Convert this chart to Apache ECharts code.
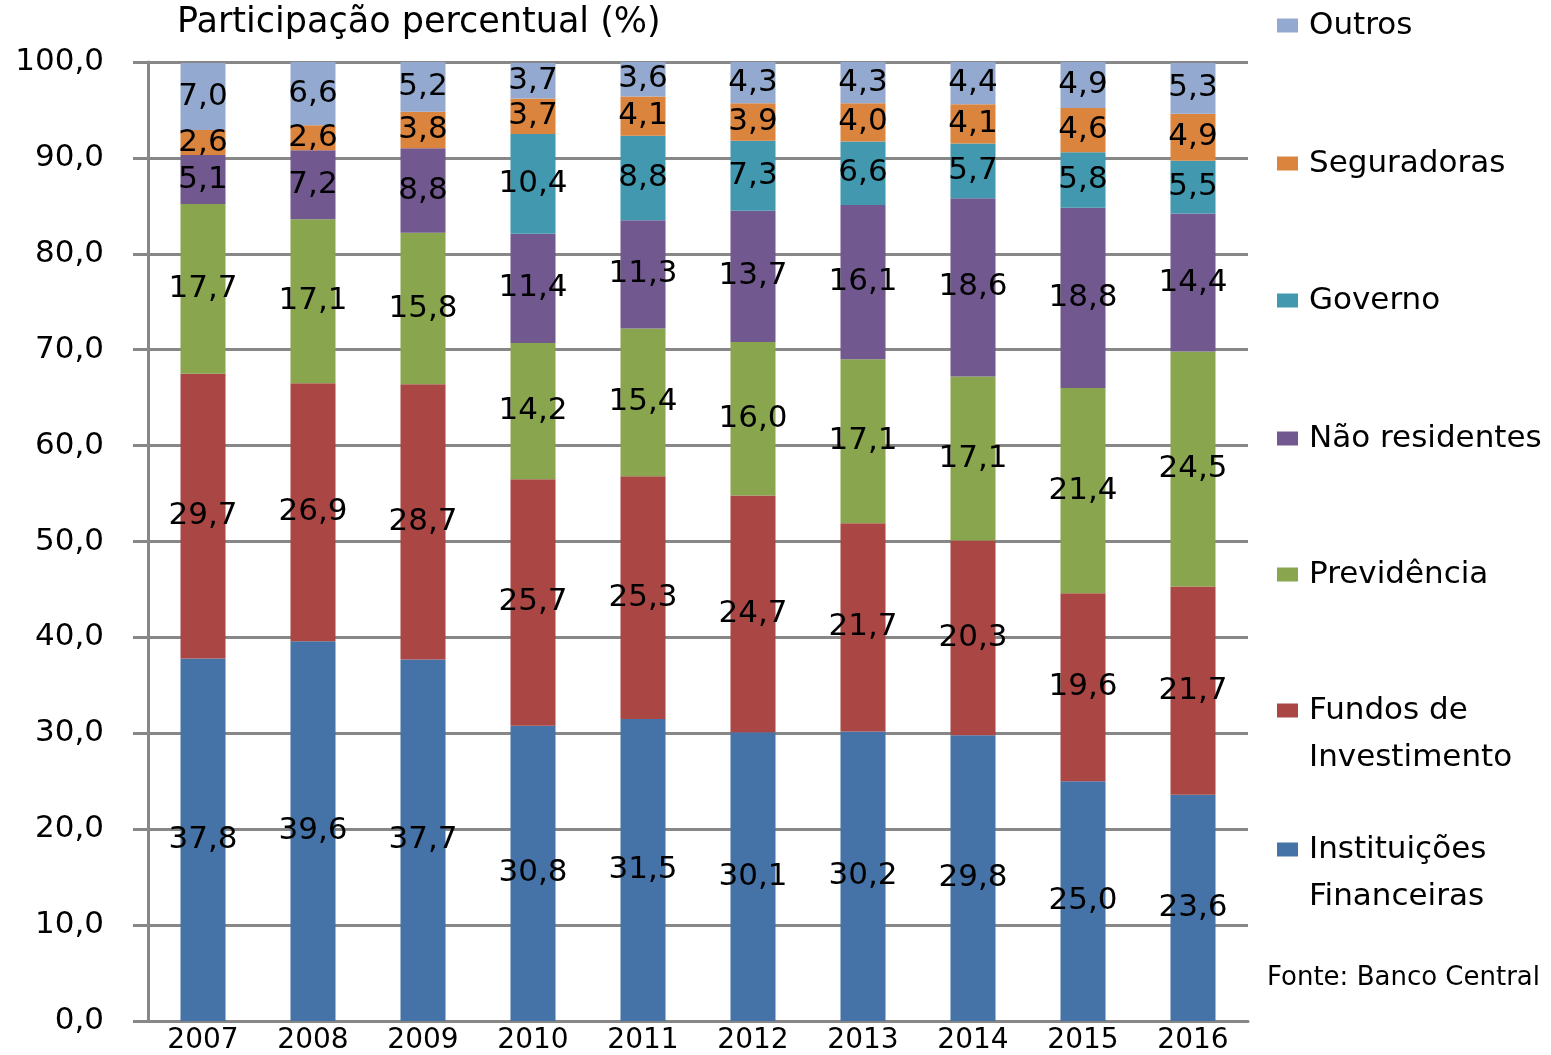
<!DOCTYPE html>
<html>
<head>
<meta charset="utf-8">
<script src="https://cdn.jsdelivr.net/npm/echarts@6/dist/echarts.min.js"></script>
<style>
  html, body { margin: 0; padding: 0; background: #fff; }
  #chart { width: 1551px; height: 1055px; }
</style>
</head>
<body>
<div id="chart"></div>
<script>
document.addEventListener('DOMContentLoaded', function () {

    // categorias e séries (participação percentual)
    const years = ['2007', '2008', '2009', '2010', '2011', '2012', '2013', '2014', '2015', '2016'];
    const instituicoes = [37.8, 39.6, 37.7, 30.8, 31.5, 30.1, 30.2, 29.8, 25.0, 23.6];
    const fundos = [29.7, 26.9, 28.7, 25.7, 25.3, 24.7, 21.7, 20.3, 19.6, 21.7];
    const previdencia = [17.7, 17.1, 15.8, 14.2, 15.4, 16.0, 17.1, 17.1, 21.4, 24.5];
    const naoResidentes = [5.1, 7.2, 8.8, 11.4, 11.3, 13.7, 16.1, 18.6, 18.8, 14.4];
    const governo = [null, null, null, 10.4, 8.8, 7.3, 6.6, 5.7, 5.8, 5.5];
    const seguradoras = [2.6, 2.6, 3.8, 3.7, 4.1, 3.9, 4.0, 4.1, 4.6, 4.9];
    const outros = [7.0, 6.6, 5.2, 3.7, 3.6, 4.3, 4.3, 4.4, 4.9, 5.3];

    const font = 'DejaVu Sans';
    const fmt = v => v.toFixed(1).replace('.', ',');

    const seriesDefs = [
        { name: 'Instituições Financeiras', data: instituicoes, color: '#4572A7' },
        { name: 'Fundos de Investimento', data: fundos, color: '#AA4643' },
        { name: 'Previdência', data: previdencia, color: '#89A54E' },
        { name: 'Não residentes', data: naoResidentes, color: '#71588F' },
        { name: 'Governo', data: governo, color: '#4198AF' },
        { name: 'Seguradoras', data: seguradoras, color: '#DB843D' },
        { name: 'Outros', data: outros, color: '#93A9CF' }
    ];

    // legendas separadas, de cima para baixo
    const legendPos = [
        { name: 'Outros', top: 2, text: 'Outros' },
        { name: 'Seguradoras', top: 140, text: 'Seguradoras' },
        { name: 'Governo', top: 277, text: 'Governo' },
        { name: 'Não residentes', top: 415, text: 'Não residentes' },
        { name: 'Previdência', top: 551, text: 'Previdência' },
        { name: 'Fundos de Investimento', top: 640, text: '\nFundos de\nInvestimento' },
        { name: 'Instituições Financeiras', top: 779, text: '\nInstituições\nFinanceiras' }
    ];

    const chart = echarts.init(document.getElementById('chart'));

    const option = {
        animation: false,
        textStyle: { fontFamily: font },
        title: {
            text: 'Participação percentual (%)',
            left: 172,
            top: 0,
            textStyle: { fontFamily: font, fontSize: 35, fontWeight: 'normal', color: '#000' }
        },
        legend: legendPos.map(l => ({
            data: [l.name],
            left: 1277,
            top: l.top,
            orient: 'vertical',
            selectedMode: false,
            itemWidth: 21,
            itemHeight: 14,
            itemGap: 0,
            padding: 0,
            icon: 'rect',
            formatter: () => l.text,
            textStyle: { fontFamily: font, fontSize: 31, lineHeight: 47, color: '#000', padding: [0, 0, 0, 6] }
        })),
        graphic: [{
            type: 'text',
            left: 1267,
            top: 965,
            style: { text: 'Fonte: Banco Central', fontFamily: font, fontSize: 26, fill: '#000' }
        }],
        grid: { left: 148, right: 303, top: 62, bottom: 34 },
        xAxis: {
            type: 'category',
            data: years,
            axisLine: { lineStyle: { color: '#878787', width: 3 } },
            axisTick: { show: false },
            axisLabel: { color: '#000', fontSize: 28, margin: 6, fontFamily: font }
        },
        yAxis: {
            type: 'value',
            min: 0,
            max: 100,
            interval: 10,
            axisLine: { show: true, lineStyle: { color: '#878787', width: 3 } },
            axisTick: { show: true, length: 15, lineStyle: { color: '#878787', width: 3 } },
            splitLine: { lineStyle: { color: '#878787', width: 3 } },
            axisLabel: { color: '#000', fontSize: 31, margin: 44, fontFamily: font, formatter: fmt }
        },
        series: seriesDefs.map(s => ({
            name: s.name,
            type: 'bar',
            stack: 'total',
            barWidth: 45,
            data: s.data,
            itemStyle: { color: s.color },
            label: {
                show: true,
                position: 'inside',
                color: '#000',
                fontSize: 31,
                fontFamily: font,
                formatter: p => (p.value == null ? '' : fmt(p.value))
            }
        }))
    };

    chart.setOption(option);
});
</script>
</body>
</html>
